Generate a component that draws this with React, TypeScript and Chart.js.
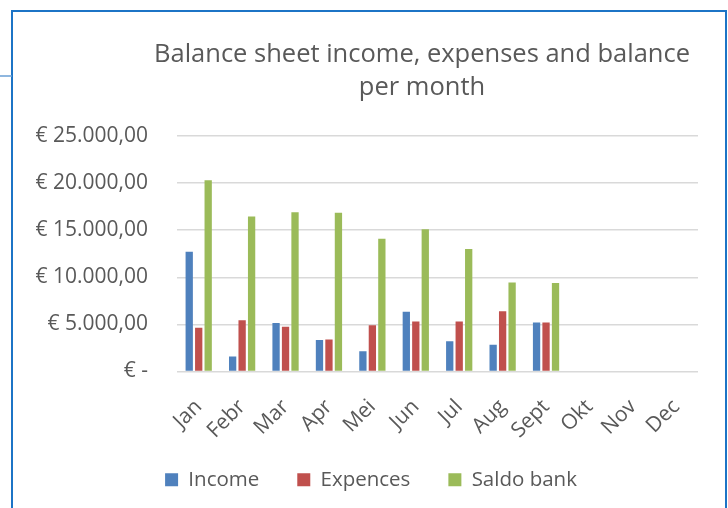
import React, { useEffect, useRef } from 'react';
import { Chart, registerables } from 'chart.js';

Chart.register(...registerables);

const months = ['Jan', 'Febr', 'Mar', 'Apr', 'Mei', 'Jun', 'Jul', 'Aug', 'Sept', 'Okt', 'Nov', 'Dec'];
const income = [12700, 1600, 5150, 3350, 2150, 6350, 3200, 2850, 5200, null, null, null];
const expences = [4650, 5450, 4750, 3400, 4900, 5300, 5300, 6400, 5200, null, null, null];
const saldoBank = [20300, 16450, 16900, 16850, 14100, 15100, 13000, 9450, 9400, null, null, null];
const seriesNames = ['Income', 'Expences', 'Saldo bank'];
const seriesColors = ['#4F81BD', '#C0504D', '#9BBB59'];
const yTickValues = [0, 5000, 10000, 15000, 20000, 25000];
const yTickLabels = ['€ -', '€ 5.000,00', '€ 10.000,00', '€ 15.000,00', '€ 20.000,00', '€ 25.000,00'];
const titleLines = ['Balance sheet income, expenses and balance', 'per month'];

const FONT = "'Open Sans', 'Noto Sans', sans-serif";
const TEXT = '#595959';

const framePlugin = {
  id: 'frame',
  beforeDraw(chart: any) {
    // let rotated x labels extend below the axis box without being clipped
    const xs = chart.scales.x;
    if (xs) xs._computeLabelArea = () => undefined;
    const ctx = chart.ctx;
    ctx.save();
    ctx.fillStyle = '#ffffff';
    ctx.fillRect(0, 0, chart.width, chart.height);
    ctx.strokeStyle = '#1C74C6';
    ctx.lineWidth = 2;
    ctx.beginPath();
    ctx.moveTo(12, chart.height);
    ctx.lineTo(12, 11);
    ctx.lineTo(726, 11);
    ctx.lineTo(726, chart.height);
    ctx.stroke();
    ctx.strokeStyle = '#6A9FD4';
    ctx.lineWidth = 1.5;
    ctx.beginPath();
    ctx.moveTo(0, 76);
    ctx.lineTo(12, 76);
    ctx.stroke();
    ctx.restore();
  },
  afterDraw(chart: any) {
    const ctx = chart.ctx;
    ctx.save();
    ctx.fillStyle = TEXT;
    ctx.font = `25.5px ${FONT}`;
    ctx.textAlign = 'center';
    ctx.textBaseline = 'alphabetic';
    ctx.fillText(titleLines[0], 422, 62);
    ctx.fillText(titleLines[1], 422, 95);
    ctx.restore();
  },
};

export default function App() {
  const ref = useRef<HTMLCanvasElement | null>(null);

  useEffect(() => {
    document.body.style.margin = '0';
    if (!ref.current) return;
    const datasets = [income, expences, saldoBank].map((d, i) => ({
      label: seriesNames[i],
      data: d,
      backgroundColor: seriesColors[i],
      borderWidth: 0,
      categoryPercentage: 0.655,
      barPercentage: 0.77,
    }));
    const chart = new Chart(ref.current, {
      type: 'bar',
      data: { labels: months, datasets },
      plugins: [framePlugin],
      options: {
        responsive: false,
        animation: false,
        layout: { padding: { top: 136, left: 14, right: 0, bottom: 8 } },
        plugins: {
          title: { display: false },
          tooltip: { enabled: false },
          legend: {
            display: true,
            position: 'bottom',
            labels: {
              boxWidth: 13,
              boxHeight: 13,
              padding: 38,
              color: TEXT,
              font: { size: 20.5, family: FONT },
            },
          },
        },
        scales: {
          x: {
            grid: { display: false, drawTicks: false },
            border: { display: false },
            ticks: {
              color: TEXT,
              font: { size: 21, family: FONT },
              minRotation: 45,
              maxRotation: 45,
              padding: 23,
              autoSkip: false,
            },
            afterFit: (s: any) => {
              s.height = 60;
            },
          },
          y: {
            min: 0,
            max: 25000,
            afterBuildTicks: (s: any) => {
              s.ticks = yTickValues.map((v) => ({ value: v }));
            },
            ticks: {
              color: TEXT,
              font: { size: 21, family: FONT },
              padding: 29,
              callback: (v: any) => {
                const i = yTickValues.indexOf(Number(v));
                return i >= 0 ? yTickLabels[i] : '';
              },
            },
            grid: { color: '#D9D9D9', lineWidth: 1.5, drawTicks: false },
            border: { display: false },
            afterFit: (s: any) => {
              s.width = 163;
            },
          },
          y2: {
            position: 'right',
            display: true,
            grid: { display: false, drawTicks: false },
            border: { display: false },
            ticks: { display: false },
            afterFit: (s: any) => {
              s.width = 30;
            },
          },
        },
      },
    });
    return () => chart.destroy();
  }, []);

  return <canvas ref={ref} width={728} height={508} style={{ display: 'block' }} />;
}
